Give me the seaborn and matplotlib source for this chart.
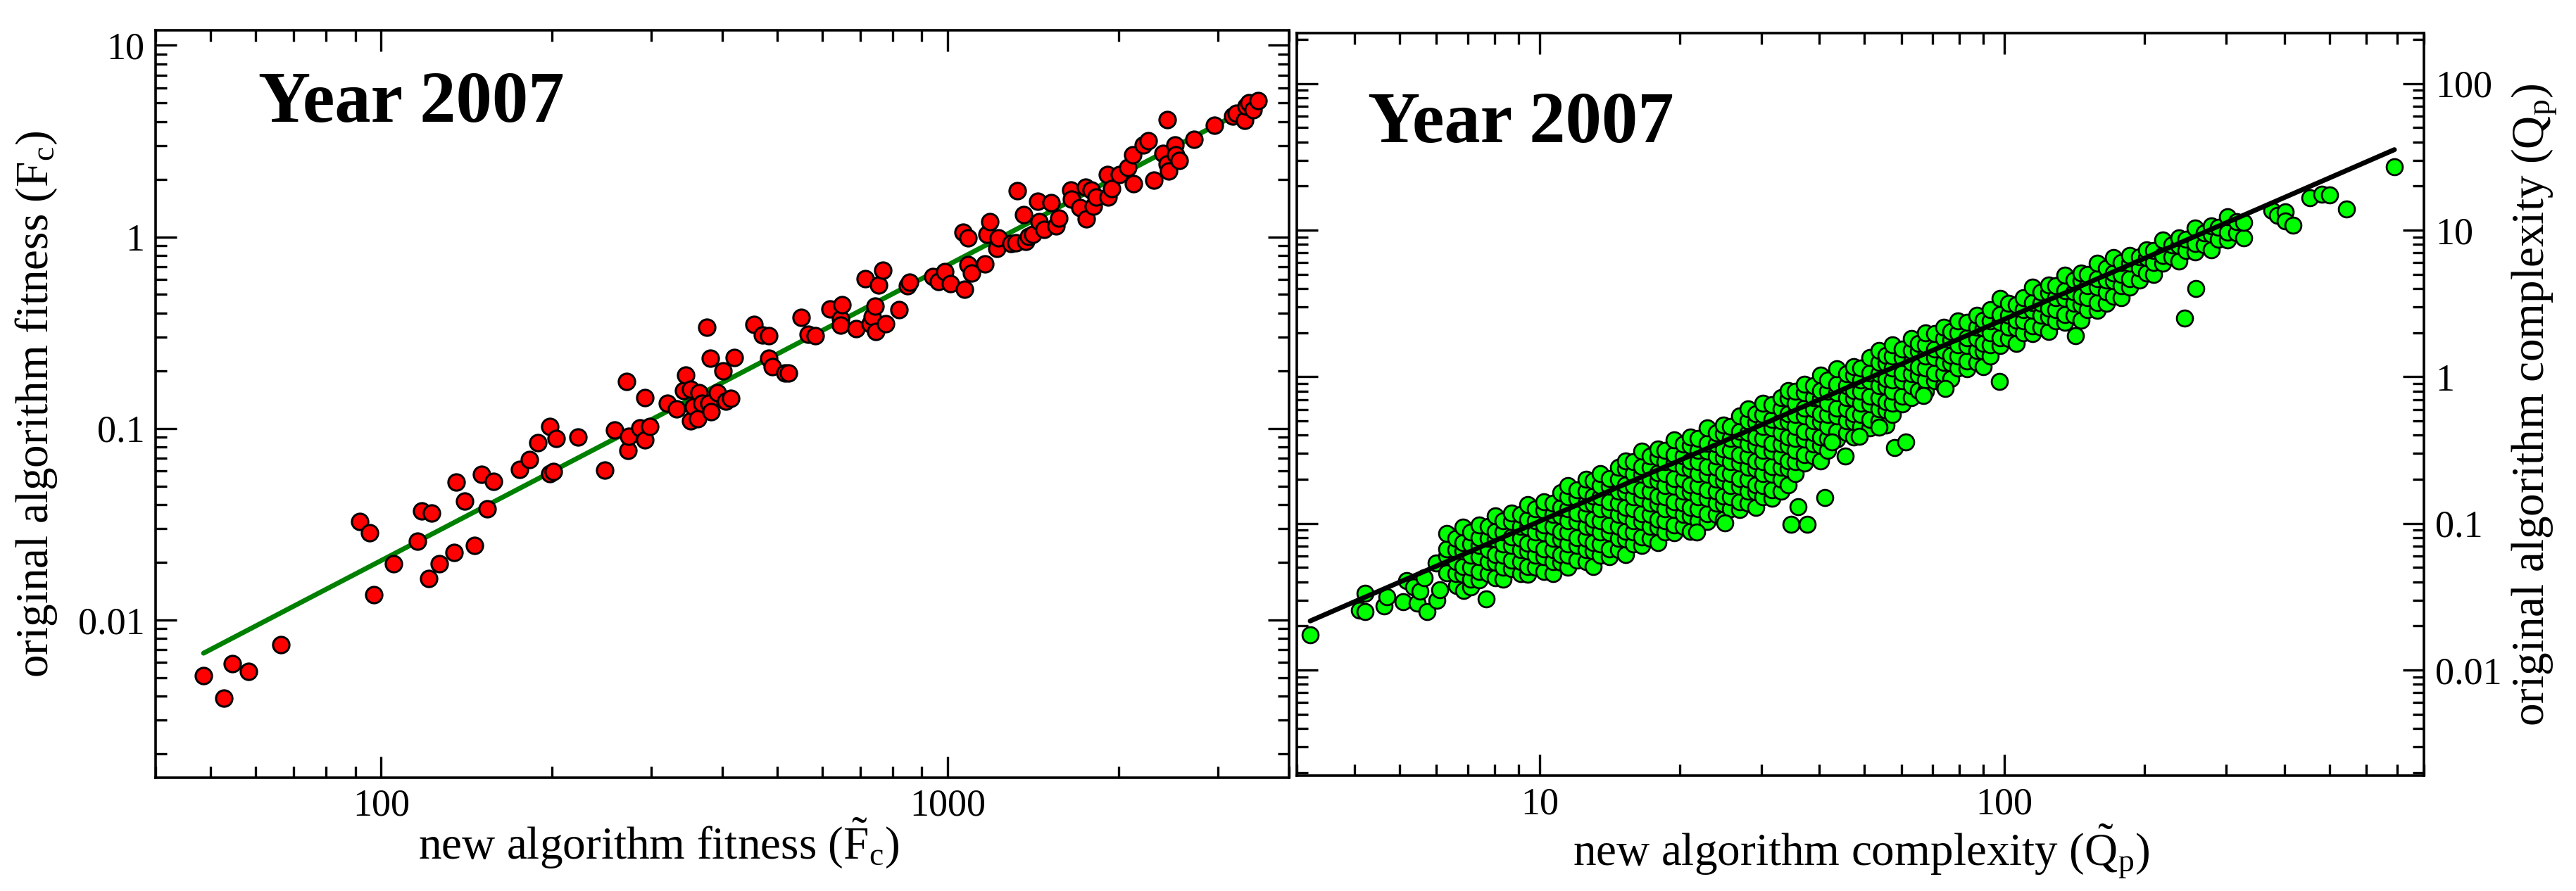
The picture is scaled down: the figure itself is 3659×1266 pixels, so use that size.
import numpy as np
import pandas as pd
import seaborn as sns
import matplotlib
matplotlib.use('Agg')
import matplotlib.pyplot as plt
from matplotlib import ticker


# ---- left panel: fitness, one point per algorithm run
new_fitness = [48.6, 52.8, 54.6, 58.3, 66.5, 91.8, 95.5, 97.1, 105.3, 116, 118, 121.5, 122.9, 126.7,
               134.5, 135.7, 140.5, 146.1, 150.4, 153.8, 158, 175.4, 182.8, 189.2, 198.7, 198.7, 201.6,
               203.9, 222.7, 248.1, 258.1, 271.2, 272.5, 273.8, 286.3, 291.9, 291.9, 297.7, 320.4, 331.7,
               341.7, 345, 351.9, 351.9, 355.3, 362.4, 364.2, 367.8, 375.1, 378.8, 380.8, 382.5, 392, 401,
               405.7, 413.9, 420.1, 454.6, 470.5, 483.7, 483.7, 489.4, 516.4, 524.1, 550.6, 567.1, 584,
               619.4, 647.6, 647.6, 650.7, 688.9, 714.5, 728.7, 735.9, 743.2, 746.8, 754.4, 767, 776.9,
               820, 848.7, 857,
               940.4, 963.6, 987.6, 1012, 1063, 1069, 1084, 1084, 1101, 1162, 1173, 1185, 1221, 1227,
               1294, 1320, 1327, 1360, 1373, 1387, 1414, 1442, 1449, 1478, 1523, 1553, 1568, 1647, 1655,
               1713, 1748, 1756, 1791, 1808, 1826, 1910, 1919, 1947, 2005, 2076, 2117, 2128, 2213, 2257,
               2313, 2394, 2442, 2442, 2454, 2515, 2527, 2564, 2721, 2958, 3184, 3231, 3345, 3361, 3395,
               3462, 3530]
orig_fitness = [0.0051, 0.0039, 0.0059, 0.0054, 0.0074, 0.0325, 0.0286, 0.0135, 0.0196, 0.0257, 0.0369,
                0.0164, 0.0362, 0.0197, 0.0224, 0.0522, 0.0416, 0.0244, 0.0577, 0.038, 0.0528, 0.0609,
                0.0687, 0.0842, 0.1026, 0.058, 0.0597,
                0.0886, 0.0898, 0.0605, 0.0977, 0.1753, 0.0769, 0.0911, 0.1006, 0.0873, 0.1443, 0.102,
                0.1352, 0.126, 0.158, 0.1897, 0.1602, 0.1094, 0.1297, 0.1125, 0.1536, 0.1352, 0.3364,
                0.1352, 0.2332, 0.1225, 0.1536, 0.1996, 0.139, 0.143, 0.2345, 0.3479, 0.3066, 0.3048,
                0.2332, 0.2094, 0.1952, 0.1952, 0.3789, 0.311, 0.304, 0.4217, 0.3736, 0.345, 0.4424,
                0.3309, 0.6035, 0.3529, 0.3842, 0.4362, 0.3198, 0.5623, 0.6698, 0.3529, 0.4158, 0.5544,
                0.5784,
                0.621, 0.587, 0.657, 0.570, 1.061, 0.531, 0.715, 0.989, 0.648, 0.725, 1.032, 1.205, 0.871,
                0.989, 0.921, 0.935, 1.739, 1.311, 0.948, 1.003, 1.032, 1.531, 1.205, 1.091, 1.51, 1.139,
                1.257, 1.763, 1.575, 1.427, 1.814, 1.239, 1.763, 1.447, 1.62, 2.118, 1.62, 1.788, 2.118,
                2.305, 2.692, 1.892, 3.015, 3.189, 1.974, 2.731, 2.405, 4.111, 2.21, 3.015, 2.692, 2.508,
                3.234, 3.83, 4.288, 4.411, 4.054, 4.802, 5.009, 4.603, 5.152]
fitness_fit_x = [48.6, 3300]
fitness_fit_y = [0.0067, 4.5]

# ---- right panel: complexity, dense cloud read column by column
cloud_x = [6.31, 6.84, 7.41, 8.04, 8.71, 9.44, 10.23, 11.09, 12.02, 13.03, 14.13, 15.31, 16.6, 17.99,
           19.5, 21.13, 22.91, 24.83, 26.92, 29.17, 31.62, 34.28, 37.15, 40.27, 43.65, 47.32, 51.29,
           55.59, 60.26, 65.31, 70.79, 76.74, 83.18, 90.16, 97.72, 105.9, 114.8, 124.5, 134.9, 146.2,
           158.5, 171.8, 186.2, 201.8, 218.8, 237.1, 257.0, 278.6, 302.0, 327.3]
cloud_y = [
    [0.046, 0.060, 0.067, 0.085],
    [0.045, 0.051, 0.065, 0.074, 0.094],
    [0.041, 0.047, 0.059, 0.071, 0.080, 0.098],
    [0.0425, 0.054, 0.061, 0.078, 0.088, 0.112],
    [0.049, 0.056, 0.071, 0.081, 0.103, 0.117],
    [0.045, 0.051, 0.065, 0.073, 0.094, 0.107, 0.135],
    [0.047, 0.059, 0.067, 0.086, 0.097, 0.123, 0.140],
    [0.054, 0.061, 0.078, 0.088, 0.113, 0.128, 0.162],
    [0.056, 0.071, 0.080, 0.103, 0.117, 0.149, 0.169],
    [0.051, 0.065, 0.074, 0.094, 0.107, 0.136, 0.154, 0.195],
    [0.059, 0.067, 0.086, 0.097, 0.124, 0.140, 0.179, 0.203],
    [0.061, 0.078, 0.088, 0.113, 0.128, 0.163, 0.184, 0.236, 0.268],
    [0.071, 0.081, 0.103, 0.116, 0.149, 0.169, 0.215, 0.244, 0.310],
    [0.074, 0.094, 0.106, 0.136, 0.153, 0.196, 0.222, 0.283, 0.322],
    [0.086, 0.097, 0.124, 0.140, 0.179, 0.203, 0.259, 0.293, 0.372],
    [0.088, 0.113, 0.128, 0.163, 0.184, 0.236, 0.267, 0.340, 0.387],
    [0.103, 0.116, 0.149, 0.169, 0.215, 0.244, 0.311, 0.352, 0.447],
    [0.106, 0.136, 0.153, 0.196, 0.222, 0.283, 0.321, 0.409, 0.466],
    [0.124, 0.140, 0.179, 0.203, 0.259, 0.293, 0.374, 0.424, 0.540],
    [0.128, 0.163, 0.184, 0.236, 0.267, 0.341, 0.386, 0.492, 0.560],
    [0.149, 0.169, 0.215, 0.244, 0.311, 0.352, 0.449, 0.510, 0.648],
    [0.184, 0.236, 0.267, 0.341, 0.386, 0.493, 0.558, 0.712, 0.808],
    [0.259, 0.293, 0.374, 0.424, 0.540, 0.612, 0.781, 0.886],
    [0.267, 0.341, 0.386, 0.493, 0.558, 0.712, 0.808, 1.03],
    [0.374, 0.424, 0.540, 0.612, 0.781, 0.886, 1.13],
    [0.386, 0.493, 0.558, 0.712, 0.808, 1.03, 1.17],
    [0.449, 0.510, 0.649, 0.737, 0.938, 1.065, 1.36],
    [0.466, 0.592, 0.672, 0.856, 0.971, 1.235, 1.40],
    [0.649, 0.737, 0.938, 1.065, 1.36, 1.54],
    [0.808, 1.03, 1.17, 1.49, 1.69],
    [0.938, 1.065, 1.36, 1.54, 1.96],
    [0.971, 1.235, 1.40, 1.79, 2.03],
    [1.13, 1.28, 1.63, 1.85, 2.36],
    [1.17, 1.49, 1.69, 2.15, 2.44],
    [1.63, 1.85, 2.36, 2.67, 3.41],
    [1.69, 2.15, 2.44, 3.11],
    [1.96, 2.22, 2.83, 3.21, 4.10],
    [2.03, 2.58, 2.93, 3.74, 4.24],
    [2.36, 2.67, 3.41, 3.86, 4.93],
    [2.44, 3.11, 3.52, 4.50, 5.09],
    [2.83, 3.21, 4.10, 4.65, 5.92],
    [3.52, 4.50, 5.09, 6.50],
    [4.10, 4.65, 5.92, 6.71],
    [5.09, 6.50, 7.36],
    [5.92, 6.71, 8.57],
    [6.12, 7.82, 8.85],
    [7.13, 8.07, 10.3],
    [7.36, 9.39, 10.63],
    [8.57, 9.70, 12.38],
    [8.85, 11.29],
]
# columns lying between the ones above
cloud_mid_x = [6.6, 7.1, 7.75, 8.35, 9.1, 9.8, 10.7, 11.5, 12.6, 13.5, 14.8, 15.9, 17.3, 18.6, 20.4, 21.9,
               24.0, 25.7, 28.1, 30.2, 33.1, 35.5, 38.9, 41.7, 45.7, 49.0, 53.7, 57.5, 63.0, 67.6, 74.1,
               79.4, 87.1, 93.3, 102, 110, 120, 129, 141, 151, 166, 178, 195, 209, 229, 246, 269, 289, 316]
cloud_mid_y = [
    [0.0457, 0.0550, 0.0661, 0.0794],
    [0.0417, 0.0501, 0.0603, 0.0724, 0.0871],
    [0.0457, 0.0550, 0.0661, 0.0794, 0.0955],
    [0.0417, 0.0501, 0.0603, 0.0724, 0.0871, 0.1047],
    [0.0457, 0.0550, 0.0661, 0.0794, 0.0955, 0.1148],
    [0.0501, 0.0603, 0.0724, 0.0871, 0.1047, 0.1259],
    [0.0457, 0.0550, 0.0661, 0.0794, 0.0955, 0.1148, 0.138],
    [0.0501, 0.0603, 0.0724, 0.0871, 0.1047, 0.1259, 0.1514, 0.182],
    [0.0550, 0.0661, 0.0794, 0.0955, 0.1148, 0.138, 0.166, 0.1995],
    [0.0603, 0.0724, 0.0871, 0.1047, 0.1259, 0.1514, 0.182, 0.2188],
    [0.0661, 0.0794, 0.0955, 0.1148, 0.138, 0.166, 0.1995, 0.240],
    [0.0724, 0.0871, 0.1047, 0.1259, 0.1514, 0.182, 0.2188, 0.263],
    [0.0794, 0.0955, 0.1148, 0.138, 0.166, 0.1995, 0.240, 0.288],
    [0.0871, 0.1047, 0.1259, 0.1514, 0.182, 0.2188, 0.263, 0.3162],
    [0.0955, 0.1148, 0.138, 0.166, 0.1995, 0.240, 0.288, 0.347],
    [0.1047, 0.1259, 0.1514, 0.182, 0.2188, 0.263, 0.3162, 0.380],
    [0.1148, 0.138, 0.166, 0.1995, 0.240, 0.288, 0.347, 0.417],
    [0.1259, 0.1514, 0.182, 0.2188, 0.263, 0.3162, 0.380, 0.457],
    [0.138, 0.166, 0.1995, 0.240, 0.288, 0.347, 0.417, 0.501, 0.603],
    [0.1514, 0.182, 0.2188, 0.263, 0.3162, 0.380, 0.457, 0.550, 0.661],
    [0.166, 0.1995, 0.240, 0.288, 0.347, 0.417, 0.501, 0.603, 0.724],
    [0.2188, 0.263, 0.3162, 0.380, 0.457, 0.550, 0.661, 0.794],
    [0.288, 0.347, 0.417, 0.501, 0.603, 0.724, 0.871],
    [0.3162, 0.380, 0.457, 0.550, 0.661, 0.794, 0.955],
    [0.417, 0.501, 0.603, 0.724, 0.871, 1.047],
    [0.457, 0.550, 0.661, 0.794, 0.955, 1.148],
    [0.501, 0.603, 0.724, 0.871, 1.047, 1.259, 1.514],
    [0.550, 0.661, 0.794, 0.955, 1.148, 1.380, 1.660],
    [0.724, 0.871, 1.047, 1.259, 1.514, 1.820],
    [0.794, 0.955, 1.148, 1.380, 1.660, 1.995],
    [0.871, 1.047, 1.259, 1.514, 1.820, 2.188],
    [1.148, 1.380, 1.660, 1.995, 2.399],
    [1.259, 1.514, 1.820, 2.188, 2.630],
    [1.380, 1.660, 1.995, 2.399, 2.884],
    [1.820, 2.188, 2.630, 3.162],
    [1.995, 2.399, 2.884, 3.467],
    [2.188, 2.630, 3.162, 3.802],
    [2.399, 2.884, 3.467, 4.169],
    [2.630, 3.162, 3.802, 4.571],
    [2.884, 3.467, 4.169, 5.012],
    [3.162, 3.802, 4.571, 5.495],
    [3.467, 4.169, 5.012, 6.026],
    [4.571, 5.495, 6.607],
    [5.012, 6.026, 7.244],
    [6.607, 7.943],
    [7.244, 8.710],
    [7.943, 9.550],
    [8.710, 10.47],
    [9.550, 11.48],
]
# sparse points outside the main band
extra_x = [3.21, 4.10, 4.21, 4.22, 4.63, 4.69, 5.08, 5.18, 5.36, 5.46, 5.53, 5.65, 5.72, 5.99, 6.02, 6.10,
           6.63, 6.87, 7.12, 7.67,
           21.74, 25.05, 34.76, 37.64, 36.02, 41.14, 45.4, 42.6, 48.7, 53.7, 58.0, 61.4, 67.0, 74.5, 97.5,
           142.0, 243.7, 258.2,
           376, 387, 402, 402, 418, 454.2, 481.2, 500.1, 544.4, 690]
extra_y = [0.0173, 0.0257, 0.0251, 0.0332, 0.0274, 0.0315, 0.0292, 0.0406, 0.0367, 0.0285, 0.0344, 0.0427,
           0.0251, 0.0537, 0.030, 0.0352, 0.0377, 0.0349, 0.0367, 0.0307,
           0.0869, 0.1012, 0.0987, 0.0987, 0.1304, 0.1495, 0.289, 0.36, 0.394, 0.451, 0.329, 0.36, 0.741,
           0.829, 0.928, 1.909, 2.502, 4.016,
           13.56, 12.68, 13.26, 11.59, 10.83, 16.62, 17.54, 17.38, 14.0, 27.04]
complexity_fit_x = [3.21, 690]
complexity_fit_y = [0.0216, 35.4]


sns.set_style('ticks')
plt.rcParams['font.family'] = ['Liberation Serif', 'DejaVu Serif']
plt.rcParams['mathtext.fontset'] = 'custom'
plt.rcParams['mathtext.rm'] = 'Liberation Serif'
plt.rcParams['mathtext.it'] = 'Liberation Serif:italic'
plt.rcParams['mathtext.bf'] = 'Liberation Serif:bold'
for k in ('text.color', 'axes.labelcolor', 'xtick.color', 'ytick.color', 'axes.edgecolor'):
    plt.rcParams[k] = 'black'

# interleave the main and in-between columns so the overlaps look mixed
rows = []
for i, (x, ys) in enumerate(zip(cloud_x, cloud_y)):
    rows += [(x, y) for y in ys]
    if i < len(cloud_mid_x):
        rows += [(cloud_mid_x[i], y) for y in cloud_mid_y[i]]
cloud = pd.DataFrame(rows, columns=['new', 'orig'])
extra = pd.DataFrame({'new': extra_x, 'orig': extra_y})
complexity = pd.concat([extra.iloc[:20], cloud, extra.iloc[20:]], ignore_index=True)

fig = plt.figure(figsize=(36.59, 12.66), dpi=100)
ax1 = fig.add_axes([0.0604, 0.1272, 0.4400, 0.8389])
ax2 = fig.add_axes([0.5033, 0.1293, 0.4378, 0.8333])

for ax in (ax1, ax2):
    ax.set_xscale('log')
    ax.set_yscale('log')

# left
sns.lineplot(x=fitness_fit_x, y=fitness_fit_y, ax=ax1, color='#008000', linewidth=5, zorder=2)
sns.scatterplot(x=new_fitness, y=orig_fitness, ax=ax1, color='#ff0000', edgecolor='black',
                linewidth=2.2, s=280, zorder=3)
ax1.set_xlim(40, 4000)
ax1.set_ylim(0.0015, 12)

# right
sns.scatterplot(data=complexity, x='new', y='orig', ax=ax2, color='#00ff00', edgecolor='black',
                linewidth=2.0, s=270, zorder=2)
sns.lineplot(x=complexity_fit_x, y=complexity_fit_y, ax=ax2, color='black', linewidth=5, zorder=3)
ax2.set_xlim(3, 800)
ax2.set_ylim(0.0019, 220)

fmt = ticker.FuncFormatter(lambda v, p: f'{v:g}')
for ax in (ax1, ax2):
    for a in (ax.xaxis, ax.yaxis):
        a.set_major_locator(ticker.LogLocator(base=10))
        a.set_minor_locator(ticker.LogLocator(base=10, subs=np.arange(2, 10)))
        a.set_major_formatter(fmt)
        a.set_minor_formatter(ticker.NullFormatter())
    ax.tick_params(which='both', direction='in', top=True, right=True, left=True, bottom=True,
                   width=2.4, color='black')
    ax.tick_params(which='major', length=21.5, labelsize=39, pad=11)
    ax.tick_params(which='minor', length=11.5)
    for s in ax.spines.values():
        s.set_linewidth(2.6)
        s.set_color('black')
    ax.set_facecolor('white')

ax2.tick_params(axis='y', which='both', labelleft=False, labelright=True)

ax1.set_xlabel(r'new algorithm fitness ($\tilde{\mathrm{F}}_{\mathrm{c}}$)', fontsize=47)
ax1.set_ylabel(r'original algorithm fitness ($\mathrm{F}_{\mathrm{c}}$)', fontsize=47)
ax1.xaxis.set_label_coords(0.4435, -0.052)
ax1.yaxis.set_label_coords(-0.085, 0.5)

ax2.set_xlabel(r'new algorithm complexity ($\tilde{\mathrm{Q}}_{\mathrm{p}}$)', fontsize=47)
ax2.yaxis.set_label_position('right')
ax2.set_ylabel(r'original algorithm complexity ($\mathrm{Q}_{\mathrm{p}}$)', fontsize=47)
# a little lower than the left one so it clears the "100" tick label
ax2.xaxis.set_label_coords(0.5006, -0.063)
ax2.yaxis.set_label_coords(1.0765, 0.5)

ax1.text(0.0907, 0.8776, 'Year 2007', transform=ax1.transAxes, fontsize=74, fontweight='bold',
         ha='left', va='baseline')
ax2.text(0.0632, 0.8534, 'Year 2007', transform=ax2.transAxes, fontsize=74, fontweight='bold',
         ha='left', va='baseline')

fig.savefig('out.png', dpi=100, facecolor='white')
